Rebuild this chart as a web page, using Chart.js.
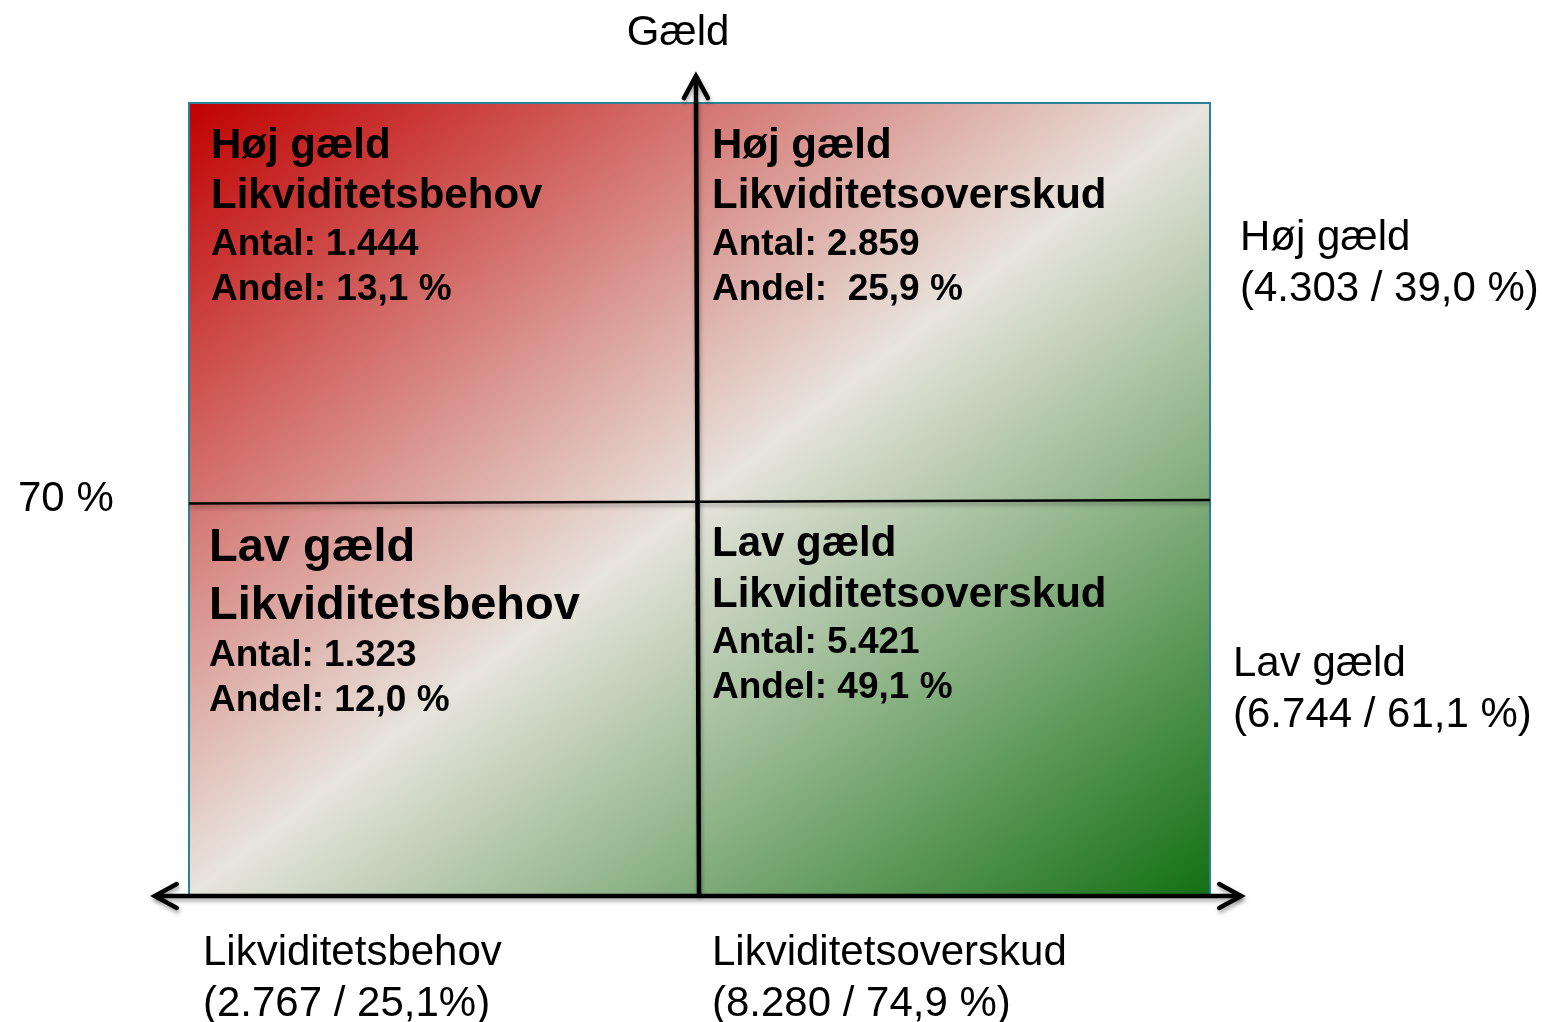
<!DOCTYPE html>
<html>
<head>
<meta charset="utf-8">
<script src="https://cdn.jsdelivr.net/npm/chart.js@4.4.1/dist/chart.umd.min.js"></script>
<style>
    html, body {
        margin: 0;
        padding: 0;
        background: #ffffff;
    }

    #wrap {
        position: relative;
        width: 1542px;
        height: 1022px;
    }
</style>
</head>
<body>
<div id="wrap">
    <canvas id="matrixChart"></canvas>
</div>
<script>
// quadrants: top-left, top-right, bottom-left, bottom-right
const quadrantDebt = ["Høj gæld", "Høj gæld", "Lav gæld", "Lav gæld"];
const quadrantLiquidity = ["Likviditetsbehov", "Likviditetsoverskud", "Likviditetsbehov", "Likviditetsoverskud"];
const quadrantCount = [1444, 2859, 1323, 5421];
const quadrantShare = [13.1, 25.9, 12.0, 49.1];

// row totals (right side)
const rowLabels = ["Høj gæld", "Lav gæld"];
const rowCount = [4303, 6744];
const rowShare = [39.0, 61.1];

// column totals (bottom)
const colLabels = ["Likviditetsbehov", "Likviditetsoverskud"];
const colCount = [2767, 8280];
const colShare = [25.1, 74.9];

const yAxisTitle = "Gæld";
const debtThreshold = "70 %";

const FONT = '"Liberation Sans", Arial, sans-serif';

function fmtCount(n) {
    return String(n).replace(/\B(?=(\d{3})+(?!\d))/g, ".");
}

function fmtShare(v) {
    return v.toFixed(1).replace(".", ",");
}

function arrowHead(ctx, tipX, tipY, dirX, dirY) {
    const len = 22;
    const half = 12;
    const bx = tipX - dirX * len;
    const by = tipY - dirY * len;
    ctx.beginPath();
    ctx.moveTo(bx - dirY * half, by + dirX * half);
    ctx.lineTo(tipX, tipY);
    ctx.lineTo(bx + dirY * half, by - dirX * half);
    ctx.stroke();
}

const quadrantPlugin = {

    id: "quadrants",

    beforeDatasetsDraw(chart) {

        const { ctx, scales: { x, y } } = chart;

        const left = x.getPixelForValue(-1);
        const right = x.getPixelForValue(1);
        const top = y.getPixelForValue(1);
        const bottom = y.getPixelForValue(-1);

        const w = right - left;
        const h = bottom - top;
        const cx = (left + right) / 2;
        const cy = (top + bottom) / 2;
        const d = Math.sqrt(w * w + h * h);
        const L = w * h / d;
        const ux = h / d;
        const uy = w / d;

        const gradient =
            ctx.createLinearGradient(
                cx - L * ux,
                cy - L * uy,
                cx + L * ux,
                cy + L * uy
            );

        gradient.addColorStop(0, "#c00000");
        gradient.addColorStop(0.5, "#e7e4dc");
        gradient.addColorStop(1, "#137013");

        ctx.save();
        ctx.fillStyle = gradient;
        ctx.fillRect(left, top, w, h);
        ctx.strokeStyle = "#2e7f93";
        ctx.lineWidth = 2;
        ctx.strokeRect(left, top, w, h);
        ctx.restore();

        // soft shadow under the axis lines
        ctx.save();
        ctx.shadowColor = "rgba(0,0,0,0.35)";
        ctx.shadowBlur = 4;
        ctx.shadowOffsetX = 1;
        ctx.shadowOffsetY = 3;
    },

    afterDatasetsDraw(chart) {

        const { ctx, scales: { x, y } } = chart;

        // arrow heads at the ends of the axis datasets
        const vAxis = chart.data.datasets[0].data;
        const hAxis = chart.data.datasets[1].data;

        ctx.strokeStyle = "#000000";
        ctx.lineWidth = 4.5;
        ctx.lineCap = "round";
        ctx.lineJoin = "miter";

        arrowHead(ctx, x.getPixelForValue(vAxis[1].x), y.getPixelForValue(vAxis[1].y), 0, -1);
        arrowHead(ctx, x.getPixelForValue(hAxis[1].x), y.getPixelForValue(hAxis[1].y), 1, 0);
        arrowHead(ctx, x.getPixelForValue(hAxis[0].x), y.getPixelForValue(hAxis[0].y), -1, 0);

        ctx.restore();

        const left = x.getPixelForValue(-1);
        const right = x.getPixelForValue(1);
        const top = y.getPixelForValue(1);
        const bottom = y.getPixelForValue(-1);
        const midX = x.getPixelForValue(vAxis[0].x);
        const midY = y.getPixelForValue(0);

        ctx.save();
        ctx.fillStyle = "#000000";
        ctx.textAlign = "left";
        ctx.textBaseline = "alphabetic";

        // quadrant texts
        const boxes = [
            { x: left + 22, ys: [top + 55, top + 105, top + 152, top + 197], sizes: [42, 42, 37, 37] },
            { x: midX + 13, ys: [top + 55, top + 105, top + 152, top + 197], sizes: [42, 42, 37, 37] },
            { x: left + 20, ys: [midY + 62, midY + 120, midY + 167, midY + 212], sizes: [47, 47, 37, 37] },
            { x: midX + 13, ys: [midY + 57, midY + 108, midY + 154, midY + 199], sizes: [42, 42, 37, 37] }
        ];

        boxes.forEach((b, i) => {

            const lines = [
                quadrantDebt[i],
                quadrantLiquidity[i],
                "Antal: " + fmtCount(quadrantCount[i]),
                "Andel: " + (i === 1 ? " " : "") + fmtShare(quadrantShare[i]) + " %"
            ];

            lines.forEach((t, k) => {
                ctx.font = "bold " + b.sizes[k] + "px " + FONT;
                ctx.fillText(t, b.x, b.ys[k]);
            });
        });

        ctx.font = "42px " + FONT;

        // row totals
        const rowPos = [
            { x: right + 30, y: top + 147 },
            { x: right + 23, y: midY + 177 }
        ];

        rowLabels.forEach((lab, i) => {
            ctx.fillText(lab, rowPos[i].x, rowPos[i].y);
            ctx.fillText(
                "(" + fmtCount(rowCount[i]) + " / " + fmtShare(rowShare[i]) + " %)",
                rowPos[i].x,
                rowPos[i].y + 51
            );
        });

        // column totals
        const colPos = [left + 14, midX + 13];

        colLabels.forEach((lab, i) => {
            ctx.fillText(lab, colPos[i], bottom + 70);
            ctx.fillText(
                "(" + fmtCount(colCount[i]) + " / " + fmtShare(colShare[i]) + (i === 0 ? "%)" : " %)"),
                colPos[i],
                bottom + 121
            );
        });

        // threshold and axis title
        ctx.fillText(debtThreshold, 18, midY + 12);

        ctx.textAlign = "center";
        ctx.fillText(yAxisTitle, midX - 21, 45);

        ctx.restore();
    }
};

function createChart() {

    const canvas =
        document
        .getElementById("matrixChart");

    return new Chart(canvas.getContext("2d"), {

        type: "scatter",

        data: {

            datasets: [

                {
                    // vertical axis (gæld)
                    data: [{ x: -0.001, y: -1 }, { x: -0.007, y: 1.068 }],
                    showLine: true,
                    borderColor: "#000000",
                    borderWidth: 4.5,
                    pointRadius: 0
                },

                {
                    // horizontal axis (likviditet)
                    data: [{ x: -1.067, y: -1.0025 }, { x: 1.061, y: -1.0025 }],
                    showLine: true,
                    borderColor: "#000000",
                    borderWidth: 4.5,
                    pointRadius: 0
                },

                {
                    // 70 % divider
                    data: [{ x: -1, y: -0.0114 }, { x: 1, y: -0.0025 }],
                    showLine: true,
                    borderColor: "#000000",
                    borderWidth: 2.5,
                    pointRadius: 0
                }
            ]
        },

        options: {

            responsive: true,

            maintainAspectRatio: false,

            animation: false,

            layout: {
                padding: 0
            },

            plugins: {

                legend: {
                    display: false
                },

                tooltip: {
                    enabled: false
                }
            },

            scales: {

                x: {
                    type: "linear",
                    display: false,
                    min: -1.3702,
                    max: 1.6503
                },

                y: {
                    type: "linear",
                    display: false,
                    min: -1.3207,
                    max: 1.2601
                }
            }
        },

        plugins: [quadrantPlugin]
    });
}

createChart();
</script>
</body>
</html>
